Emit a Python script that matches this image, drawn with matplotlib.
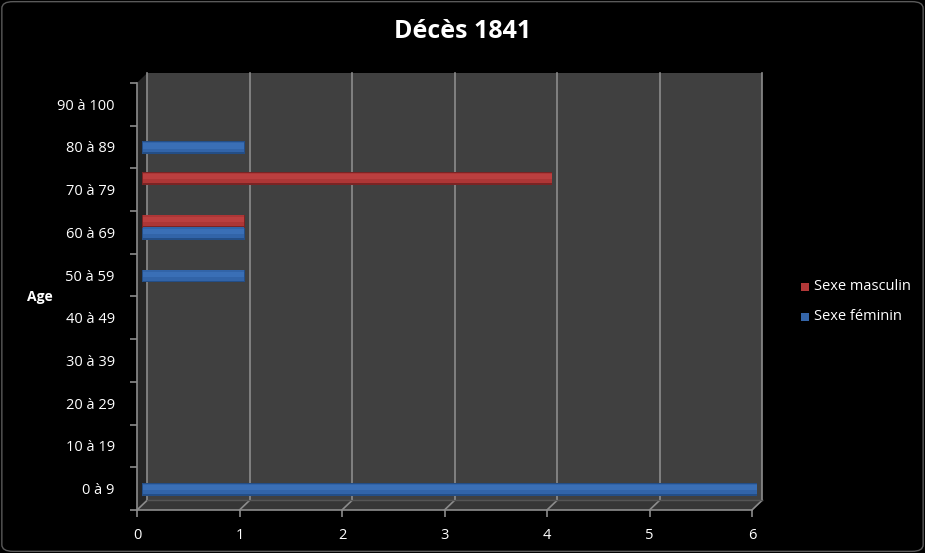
import numpy as np
import matplotlib
matplotlib.use("Agg")
import matplotlib.pyplot as plt
from matplotlib.patches import Polygon, FancyBboxPatch

plt.rcParams['font.family'] = ['Open Sans', 'DejaVu Sans']

# data
ages = ["0 à 9", "10 à 19", "20 à 29", "30 à 39", "40 à 49",
        "50 à 59", "60 à 69", "70 à 79", "80 à 89", "90 à 100"]
feminin = np.array([6, 0, 0, 0, 0, 1, 1, 0, 1, 0])
masculin = np.array([0, 0, 0, 0, 0, 0, 1, 4, 0, 0])
xticks = [0, 1, 2, 3, 4, 5, 6]

W, H = 925, 553
fig = plt.figure(figsize=(W / 100, H / 100), dpi=100)
fig.patch.set_facecolor('black')
fig.patches.append(FancyBboxPatch((0.002, 0.003), 0.996, 0.994,
                                  boxstyle="round,pad=0,rounding_size=0.012",
                                  transform=fig.transFigure, facecolor='black',
                                  edgecolor='#5a5a5a', lw=1, zorder=-10))

# axes placed on the front plane of the pseudo-3D chart
left_px, right_px, top_px, bot_px = 137, 752, 73, 510
ax = fig.add_axes([left_px / W, (H - bot_px) / H,
                   (right_px - left_px) / W, (bot_px - top_px) / H])
ax.set_facecolor('none')

ytop = 9.73
ax.set_xlim(0, 6)
ax.set_ylim(-0.5, ytop)

# walls
dx, wall_bot = 0.1, -0.27
yaxis_top = 9.5
grid_c = '#8c8c8c'
ax.add_patch(Polygon([(dx, wall_bot), (6 + dx, wall_bot), (6 + dx, ytop), (dx, ytop)],
                     closed=True, facecolor='#404040', edgecolor='none', zorder=0,
                     clip_on=False))
ax.add_patch(Polygon([(0, -0.5), (dx, wall_bot), (dx, ytop), (0, yaxis_top)],
                     closed=True, facecolor='#262626', edgecolor='none', zorder=0))
ax.add_patch(Polygon([(0, -0.5), (6, -0.5), (6 + dx, wall_bot), (dx, wall_bot)],
                     closed=True, facecolor='#363636', edgecolor='none', zorder=0,
                     clip_on=False))
for k in xticks:
    ax.plot([k + dx, k + dx], [wall_bot, ytop], color=grid_c, lw=1.2, zorder=1,
            clip_on=False)
    ax.plot([k, k + dx], [-0.5, wall_bot], color=grid_c, lw=1.2, zorder=1,
            clip_on=False)
ax.plot([dx, 6 + dx], [wall_bot, wall_bot], color='#555555', lw=1, zorder=1,
        clip_on=False)

# bars (cylinder-like shading in three layers)
y = np.arange(len(ages))
h = 0.3
yb = y - 0.02
yr = y + 0.26
mf = feminin > 0
mm = masculin > 0
shades = {
    'f': ['#244e86', '#3264a8', '#3a6fb6'],
    'm': ['#7a2424', '#ad3636', '#bb3f3f'],
}
for ys, vals, mask, key in [(yb, feminin, mf, 'f'), (yr, masculin, mm, 'm')]:
    c0, c1, c2 = shades[key]
    ax.barh(ys[mask], vals[mask], height=h, left=0.05, color=c0,
            edgecolor='none', zorder=3, clip_on=False)
    ax.barh(ys[mask] + 0.015, vals[mask] - 0.01, height=h * 0.82, left=0.055,
            color=c1, edgecolor='none', zorder=4, clip_on=False)
    ax.barh(ys[mask] + 0.04, vals[mask] - 0.01, height=h * 0.4, left=0.055,
            color=c2, edgecolor='none', zorder=5, clip_on=False)

# axis styling
for s in ['top', 'right']:
    ax.spines[s].set_visible(False)
ax.spines['left'].set_color(grid_c)
ax.spines['bottom'].set_color(grid_c)
ax.spines['left'].set_bounds(-0.5, yaxis_top)
ax.spines['left'].set_linewidth(1.2)
ax.spines['bottom'].set_linewidth(1.2)

ax.set_xticks(xticks)
ax.set_xticklabels([str(v) for v in xticks])
ax.set_yticks(y)
ax.set_yticklabels(ages)
ax.tick_params(axis='y', length=0, pad=16, colors='white', labelsize=10.5)
ax.tick_params(axis='x', length=5, width=1.2, color=grid_c, pad=8,
               labelcolor='white', labelsize=10.5)
ax.set_yticks(np.arange(-0.5, yaxis_top + 0.1, 1), minor=True)
ax.tick_params(axis='y', which='minor', length=5, width=1.2, color=grid_c)

fig.text(463 / W, 1 - 31 / H, "Décès 1841", color='white', fontsize=18,
         fontweight='bold', ha='center', va='center')
fig.text(40 / W, 1 - 297 / H, "Age", color='white', fontsize=10,
         fontweight='bold', ha='center', va='center')

# legend
for yy, col, lab in [(287, '#b23838', 'Sexe masculin'), (317, '#3465a8', 'Sexe féminin')]:
    fig.patches.append(plt.Rectangle((801 / W, 1 - (yy + 4) / H), 8 / W, 8 / H,
                                     transform=fig.transFigure, facecolor=col,
                                     edgecolor='none'))
    fig.text(814 / W, 1 - yy / H, lab, color='white', fontsize=10.5,
             ha='left', va='center')

fig.savefig('out.png', dpi=100, facecolor='black')
